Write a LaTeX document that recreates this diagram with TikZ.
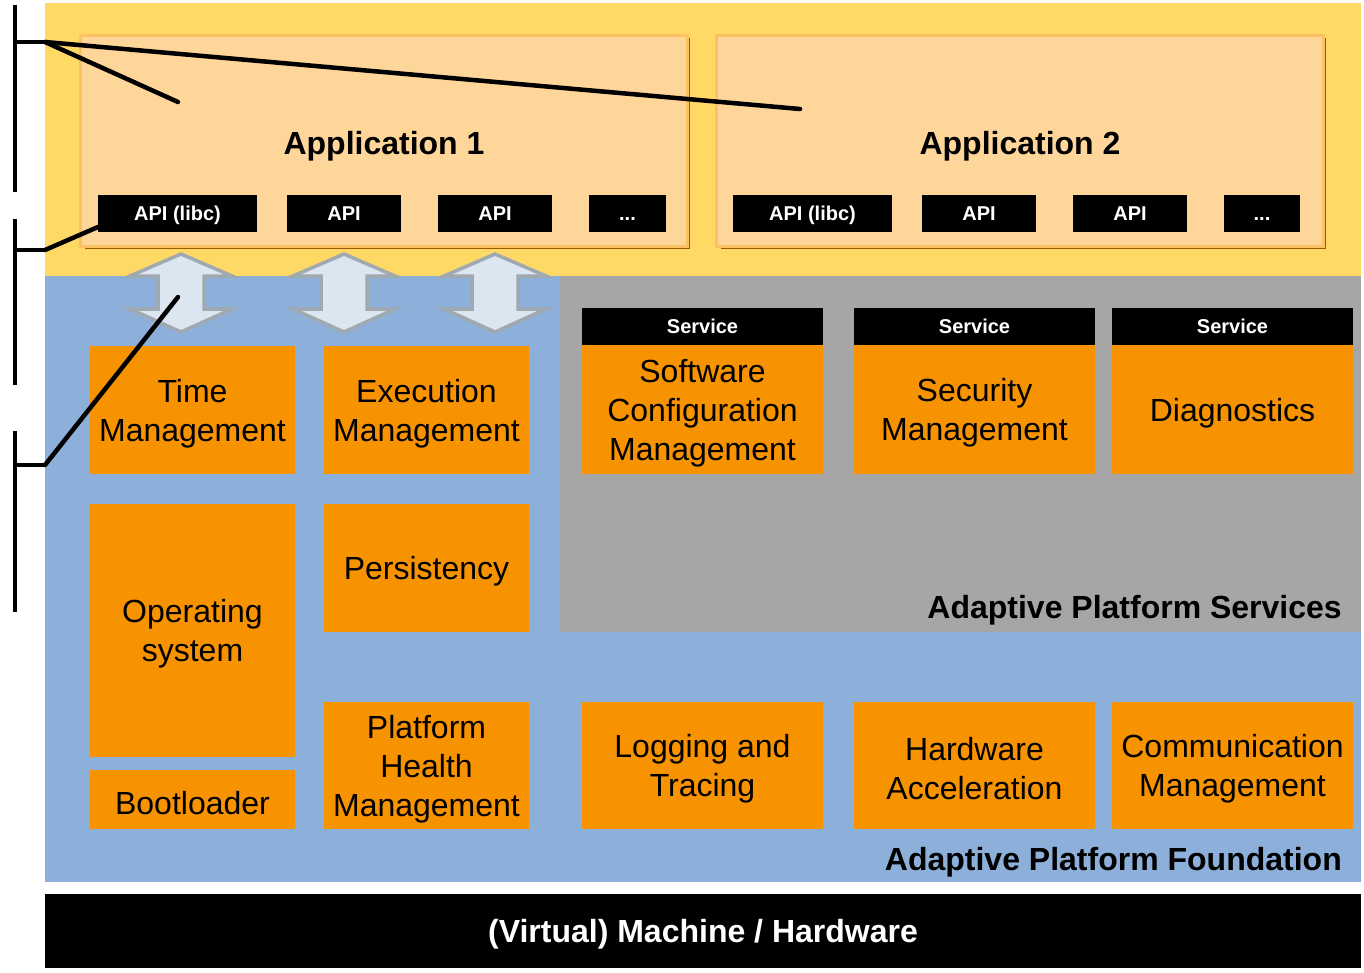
\documentclass[tikz,border=0pt]{standalone}
\usepackage{fontspec}
\setmainfont{Liberation Sans}
\usetikzlibrary{fit}
\definecolor{appbg}{HTML}{FFD966}
\definecolor{appbox}{HTML}{FFD699}
\definecolor{appedge}{HTML}{FBC163}
\definecolor{appshadow}{HTML}{9C5A00}
\definecolor{foundation}{HTML}{8DB0DA}
\definecolor{services}{HTML}{A6A6A6}
\definecolor{fcbox}{HTML}{F79200}
\definecolor{arrowfill}{HTML}{DCE6F1}
\definecolor{arrowedge}{HTML}{A0A8B0}
\newcommand{\moreapis}{...}
\begin{document}
\begin{tikzpicture}[x=1pt,y=-1pt,
  region/.style={inner sep=0pt, outer sep=0pt},
  appframe/.style={region, fill=appbox, draw=appedge, line width=3pt},
  apibox/.style={region, fill=black},
  apitext/.style={inner sep=0pt, text=white, text height=14pt, text depth=4pt,
    yshift=-1.5pt, font=\fontsize{20}{24}\selectfont\bfseries},
  fcbox/.style={region, fill=fcbox},
  fctext/.style={inner sep=0pt, align=center, yshift=-3.5pt,
    font=\fontsize{32}{39}\selectfont},
  biglabel/.style={font=\fontsize{32}{38}\selectfont\bfseries, inner sep=0pt, yshift=-3pt},
  dblarrow/.style={fill=arrowfill, draw=arrowedge, line width=3.5pt, line join=miter},
  bracket/.style={line width=4pt},
  pointer/.style={line width=4.5pt, line cap=round}]
\useasboundingbox (0,0) rectangle (1364,972);

% layer backgrounds
\node[region, fill=appbg, fit={(45,3)(1361,276)}] (applayer) {};
\node[region, fill=foundation, fit={(45,276)(1361,882)}] (found) {};
\node[region, fill=services, fit={(560,276)(1361,632)}] (svc) {};
\node[region, fill=black, fit={(45,894)(1361,968)}] (hw) {};
\node[text=white, biglabel] at (hw.center) {(Virtual) Machine / Hardware};

% applications
\foreach \nm/\xa/\xb in {app1/80/687, app2/716/1323} {
  \draw[appshadow, line width=2.5pt] (\xa+5,248) -- (\xb+2,248) -- (\xb+2,38);
  \node[appframe, fit={(\xa,35)(\xb,246)}] (\nm) {};
}
\node[biglabel] at (384,143) {Application 1};
\node[biglabel] at (1020,143) {Application 2};

% API boxes of both applications
\foreach \nm/\xa/\xb/\txt in {a1libc/98/257/API (libc), a1api1/287/401/API,
    a1api2/438/552/API, a1more/589/666/\moreapis, a2libc/733/892/API (libc),
    a2api1/922/1036/API, a2api2/1073/1187/API, a2more/1224/1300/\moreapis} {
  \node[apibox, fit={(\xa,195)(\xb,232)}] (\nm) {};
  \node[apitext] at (\nm.center) {\txt};
}

% API <-> platform arrows
\foreach \cx in {181,344,495} {
  \draw[dblarrow] (\cx,254) -- (\cx+51,276) -- (\cx+23,276) -- (\cx+23,309)
    -- (\cx+51,309) -- (\cx,332) -- (\cx-51,309) -- (\cx-23,309)
    -- (\cx-23,276) -- (\cx-51,276) -- cycle;
}

% foundation functional clusters
\node[fcbox, fit={(90,346)(295,474)}] (tm) {};
\node[fctext] at (tm.center) {Time\\Management};
\node[fcbox, fit={(324,346)(529,474)}] (em) {};
\node[fctext] at (em.center) {Execution\\Management};
\node[fcbox, fit={(90,504)(295,757)}] (os) {};
\node[fctext] at (os.center) {Operating\\system};
\node[fcbox, fit={(324,504)(529,632)}] (per) {};
\node[fctext] at (per.center) {Persistency};
\node[fcbox, fit={(90,770)(295,829)}] (boot) {};
\node[fctext] at (boot.center) {Bootloader};
\node[fcbox, fit={(324,702)(529,829)}] (phm) {};
\node[fctext] at (phm.center) {Platform\\Health\\Management};
\node[fcbox, fit={(582,702)(823,829)}] (log) {};
\node[fctext] at (log.center) {Logging and\\Tracing};
\node[fcbox, fit={(854,702)(1095,829)}] (hwa) {};
\node[fctext] at (hwa.center) {Hardware\\Acceleration};
\node[fcbox, fit={(1112,702)(1353,829)}] (com) {};
\node[fctext] at (com.center) {Communication\\Management};

% services
\foreach \nm/\xa/\xb in {ucm/582/823, sec/854/1095, diag/1112/1353} {
  \node[apibox, fit={(\xa,308)(\xb,345)}] (\nm h) {};
  \node[apitext] at (\nm h.center) {Service};
  \node[fcbox, fit={(\xa,345)(\xb,474)}] (\nm) {};
}
\node[fctext] at (ucm.center) {Software\\Configuration\\Management};
\node[fctext] at (sec.center) {Security\\Management};
\node[fctext] at (diag.center) {Diagnostics};

\node[biglabel, anchor=east] at (1342,607) {Adaptive Platform Services};
\node[biglabel, anchor=east] at (1342,859) {Adaptive Platform Foundation};

% brackets on the left with their pointers
\coordinate (b1) at (45,42);
\coordinate (b2) at (45,250);
\coordinate (b3) at (45,465);
\coordinate (p1a) at (178,102);
\coordinate (p1b) at (800,109);
\coordinate (p2) at (98,227);
\coordinate (p3) at (178,297);
\draw[bracket] (15,5) -- (15,192);
\draw[bracket] (15,219) -- (15,385);
\draw[bracket] (15,431) -- (15,612);
\draw[bracket] (15,42) -- (b1);
\draw[bracket] (15,250) -- (b2);
\draw[bracket] (15,465) -- (b3);
\draw[pointer] (b1) -- (p1a);
\draw[pointer] (b1) -- (p1b);
\draw[pointer] (b2) -- (p2);
\draw[pointer] (b3) -- (p3);
\end{tikzpicture}
\end{document}
